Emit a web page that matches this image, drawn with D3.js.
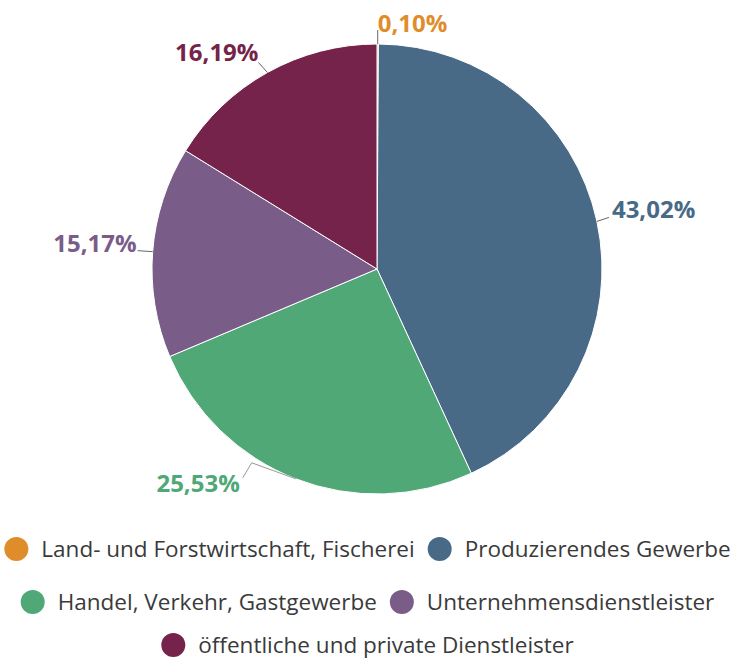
<!DOCTYPE html>
<html>
<head>
<meta charset="utf-8">
<script src="https://cdn.jsdelivr.net/npm/d3@7"></script>
<style>
  body { margin: 0; background: #fff; }
  svg { display: block; font-family: "Open Sans", sans-serif; }
  .label { font-weight: bold; font-size: 24px; }
  .legend-text { font-size: 22.5px; fill: #3a3a3a; }
</style>
</head>
<body>
<div id="chart"></div>
<script>

// Data
var categories = ["Land- und Forstwirtschaft, Fischerei", "Produzierendes Gewerbe",
    "Handel, Verkehr, Gastgewerbe", "Unternehmensdienstleister", "öffentliche und private Dienstleister"];
var shares = [0.10, 43.02, 25.53, 15.17, 16.19];
var labels = ["0,10%", "43,02%", "25,53%", "15,17%", "16,19%"];
var colors = ["#df8d2b", "#486a87", "#50a877", "#7a5c89", "#75234a"];
var legendRows = [[0, 1], [2, 3], [4]];

var width = 735, height = 664;
var cx = 377, cy = 269, radius = 225;

// connector / label layout relative to the slice edge point
// bend point, text point, anchor
var labelLayout = [
    {bend: [0, -14], text: [0, -12.5], anchor: "start"},
    {bend: [12, -4], text: [15, -3], anchor: "start"},
    {bend: [-44, -16], text: [-56, 13], anchor: "end", hook: [-53, -1]},
    {bend: [-15, -1], text: [-16, 0], anchor: "end"},
    {bend: [-9, -10], text: [-9, -11], anchor: "end"}
];

var svg = d3.select("#chart").append("svg")
    .attr("width", width)
    .attr("height", height);

var g = svg.append("g")
    .attr("transform", "translate(" + cx + "," + cy + ")");

var pie = d3.pie().sort(null).value(function(d) { return d; });
var arcs = pie(shares);

var arc = d3.arc().innerRadius(0).outerRadius(radius);
var edgeArc = d3.arc().innerRadius(radius).outerRadius(radius);

g.selectAll("path.slice")
    .data(arcs)
    .enter().append("path")
    .attr("class", "slice")
    .attr("d", arc)
    .attr("fill", function(d, i) { return colors[i]; })
    .attr("stroke", "#fff")
    .attr("stroke-width", 1);

// Connectors
var line = d3.line();
g.selectAll("path.connector")
    .data(arcs)
    .enter().append("path")
    .attr("class", "connector")
    .attr("fill", "none")
    .attr("stroke", function(d, i) { return i == 2 ? "#999" : "#666"; })
    .attr("stroke-width", 1)
    .attr("d", function(d, i) {
        var e = edgeArc.centroid(d);
        var L = labelLayout[i];
        var pts = [e, [e[0] + L.bend[0], e[1] + L.bend[1]]];
        if (L.hook) pts.push([e[0] + L.hook[0], e[1] + L.hook[1]]);
        return line(pts);
    });

// Labels
g.selectAll("text.label")
    .data(arcs)
    .enter().append("text")
    .attr("class", "label")
    .attr("fill", function(d, i) { return colors[i]; })
    .attr("text-anchor", function(d, i) { return labelLayout[i].anchor; })
    .attr("x", function(d, i) { return edgeArc.centroid(d)[0] + labelLayout[i].text[0]; })
    .attr("y", function(d, i) { return edgeArc.centroid(d)[1] + labelLayout[i].text[1]; })
    .text(function(d, i) { return labels[i]; });

// Legend
var rowY = [549, 602, 645];
var itemGap = 13, symbolW = 24, textGap = 13;

legendRows.forEach(function(row, r) {
    var rowG = svg.append("g").attr("class", "legend-row");
    var x = 0;
    row.forEach(function(idx) {
        var item = rowG.append("g").attr("transform", "translate(" + x + ",0)");
        item.append("ellipse")
            .attr("cx", symbolW / 2)
            .attr("cy", 0)
            .attr("rx", 12)
            .attr("ry", 12)
            .attr("fill", colors[idx]);
        var t = item.append("text")
            .attr("class", "legend-text")
            .attr("x", symbolW + textGap)
            .attr("y", 8)
            .text(categories[idx]);
        x += symbolW + textGap + t.node().getComputedTextLength() + itemGap;
    });
    var rowWidth = x - itemGap;
    rowG.attr("transform", "translate(" + ((width - rowWidth) / 2) + "," + rowY[r] + ")");
});

</script>
</body>
</html>
